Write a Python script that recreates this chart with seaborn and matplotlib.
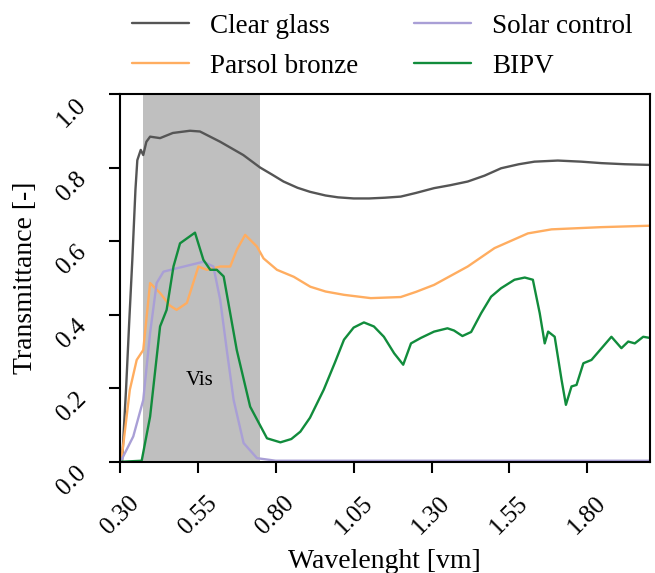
import matplotlib
matplotlib.use("Agg")
import matplotlib.pyplot as plt
import numpy as np
import pandas as pd
import seaborn as sns

# wavelengths (um) and transmittance
clear_wl = [0.30, 0.307, 0.32, 0.33, 0.34, 0.35, 0.356, 0.367, 0.375, 0.385, 0.397, 0.429, 0.47,
            0.525, 0.557, 0.622, 0.696, 0.75, 0.79, 0.825, 0.87, 0.91, 0.96, 1.0, 1.05, 1.10,
            1.15, 1.201, 1.25, 1.308, 1.36, 1.416, 1.47, 1.523, 1.58, 1.63, 1.705, 1.78,
            1.845, 1.92, 2.006]
clear_t = [0.0, 0.0, 0.2, 0.38, 0.55, 0.74, 0.82, 0.848, 0.834, 0.87, 0.884, 0.88, 0.894,
           0.90, 0.898, 0.87, 0.834, 0.80, 0.78, 0.762, 0.745, 0.734, 0.724, 0.719, 0.716, 0.716,
           0.718, 0.721, 0.731, 0.744, 0.752, 0.762, 0.778, 0.798, 0.809, 0.816, 0.819, 0.816,
           0.812, 0.809, 0.807]

bronze_wl = [0.30, 0.305, 0.332, 0.354, 0.375, 0.397, 0.429, 0.46, 0.482, 0.515, 0.552, 0.579,
             0.622, 0.654, 0.675, 0.702, 0.74, 0.761, 0.804, 0.858, 0.911, 0.96, 1.019, 1.105,
             1.201, 1.25, 1.308, 1.416, 1.502, 1.609, 1.685, 1.845, 2.006]
bronze_t = [0.0, 0.005, 0.196, 0.277, 0.304, 0.486, 0.459, 0.425, 0.413, 0.432, 0.531, 0.522,
            0.531, 0.531, 0.576, 0.617, 0.585, 0.553, 0.522, 0.503, 0.476, 0.463, 0.454, 0.445,
            0.448, 0.462, 0.481, 0.531, 0.581, 0.621, 0.632, 0.638, 0.642]

solar_wl = [0.30, 0.305, 0.343, 0.375, 0.397, 0.418, 0.44, 0.482, 0.568, 0.60, 0.622, 0.643,
            0.665, 0.697, 0.74, 0.80, 1.0, 1.5, 2.006]
solar_t = [0.0, 0.005, 0.069, 0.168, 0.35, 0.486, 0.517, 0.526, 0.544, 0.531, 0.44, 0.304,
           0.168, 0.051, 0.01, 0.003, 0.003, 0.003, 0.003]

bipv_wl = [0.30, 0.37, 0.397, 0.429, 0.45, 0.472, 0.493, 0.541, 0.568, 0.59, 0.611, 0.633,
           0.675, 0.718, 0.772, 0.815, 0.85, 0.879, 0.91, 0.954, 0.99, 1.019, 1.05, 1.083,
           1.115, 1.147, 1.18, 1.209, 1.234, 1.266, 1.308, 1.351, 1.372, 1.399, 1.427, 1.459,
           1.491, 1.523, 1.566, 1.599, 1.625, 1.647, 1.663, 1.674, 1.695, 1.717, 1.731, 1.749,
           1.765, 1.787, 1.813, 1.877, 1.909, 1.931, 1.952, 1.979, 2.006]
bipv_t = [0.0, 0.003, 0.123, 0.368, 0.413, 0.531, 0.594, 0.623, 0.549, 0.522, 0.522, 0.504,
          0.304, 0.15, 0.064, 0.053, 0.062, 0.082, 0.12, 0.196, 0.27, 0.332, 0.365, 0.379,
          0.368, 0.34, 0.295, 0.264, 0.322, 0.337, 0.354, 0.363, 0.357, 0.342, 0.353, 0.404,
          0.449, 0.472, 0.495, 0.501, 0.495, 0.404, 0.322, 0.354, 0.34, 0.223, 0.155, 0.205,
          0.209, 0.268, 0.277, 0.34, 0.309, 0.327, 0.322, 0.34, 0.336]

names = ["Clear glass", "Parsol bronze", "Solar control", "BIPV"]
colors = ["#555555", "#ffad60", "#a99fd6", "#118c3c"]

frames = []
for name, wl, t in zip(names, [clear_wl, bronze_wl, solar_wl, bipv_wl],
                       [clear_t, bronze_t, solar_t, bipv_t]):
    frames.append(pd.DataFrame({"wl": wl, "T": t, "glass": name}))
df = pd.concat(frames, ignore_index=True)

sns.set_style("ticks")
plt.rcParams["font.family"] = ["Liberation Serif", "DejaVu Serif"]
plt.rcParams["text.color"] = "black"
plt.rcParams["axes.labelcolor"] = "black"

fig = plt.figure(figsize=(6.55, 5.73), dpi=100)
ax = fig.add_axes([0.183, 0.194, 0.809, 0.642])

ax.axvspan(0.375, 0.75, color="#bfbfbf", lw=0, zorder=0)
ax.text(0.557, 0.22, "Vis", fontsize=15, ha="center", va="center")

sns.lineplot(data=df, x="wl", y="T", hue="glass", palette=colors, hue_order=names,
             linewidth=1.7, ax=ax, sort=False, estimator=None)

ax.set_xlim(0.30, 2.0)
ax.set_ylim(0.0, 1.0)
ax.set_xticks(np.arange(0.30, 1.81, 0.25))
ax.set_xticklabels(["0.30", "0.55", "0.80", "1.05", "1.30", "1.55", "1.80"])
ax.set_yticks([0.0, 0.2, 0.4, 0.6, 0.8, 1.0])
ax.set_yticklabels(["0.0", "0.2", "0.4", "0.6", "0.8", "1.0"])
ax.tick_params(axis="both", labelsize=18, width=1.5, length=8, direction="out",
               color="black", labelcolor="black")
ax.tick_params(axis="x", pad=14)
ax.tick_params(axis="y", pad=13)
plt.setp(ax.get_xticklabels(), rotation=45, ha="center", va="top")
plt.setp(ax.get_yticklabels(), rotation=45, ha="right", va="top")
for s in ax.spines.values():
    s.set_linewidth(1.5)
    s.set_color("black")

ax.set_xlabel("Wavelenght [vm]", fontsize=20)
ax.set_ylabel("Transmittance [-]", fontsize=20)
ax.xaxis.set_label_coords(0.499, -0.238)
ax.yaxis.set_label_coords(-0.155, 0.5)

ax.legend(loc="lower center", bbox_to_anchor=(0.495, 0.975), ncol=2, frameon=False,
          fontsize=19.5, handlelength=2.1, columnspacing=2.05, handletextpad=0.78,
          labelspacing=0.55)

fig.savefig("out.png", dpi=100)
